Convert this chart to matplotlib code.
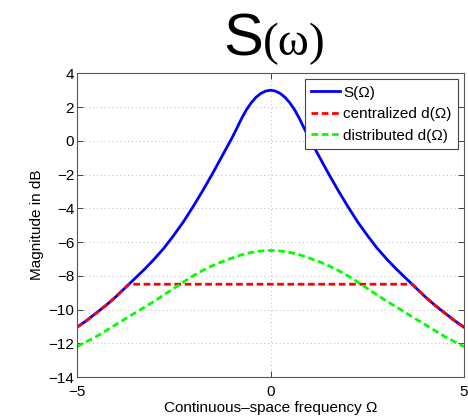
import numpy as np
import matplotlib
matplotlib.use('Agg')
import matplotlib.pyplot as plt
import matplotlib as mpl
mpl.rcParams.update({'font.family': ['Liberation Sans', 'DejaVu Sans'], 'font.size': 10})

# frequency grid and curves (dB)
omega = [-5.0, -4.75, -4.5, -4.25, -4.0, -3.75, -3.5, -3.25, -3.0, -2.75, -2.5,
         -2.25, -2.0, -1.75, -1.5, -1.25, -1.0, -0.875, -0.75, -0.625, -0.5,
         -0.375, -0.25, -0.125, 0.0, 0.125, 0.25, 0.375, 0.5, 0.625, 0.75,
         0.875, 1.0, 1.25, 1.5, 1.75, 2.0, 2.25, 2.5, 2.75, 3.0,
         3.25, 3.5, 3.75, 4.0, 4.25, 4.5, 4.75, 5.0]
S_dB = [-11.05, -10.65, -10.2, -9.75, -9.25, -8.7, -8.15, -7.6, -7.0, -6.35, -5.6,
        -4.8, -3.9, -2.95, -1.95, -0.9, 0.15, 0.72, 1.31, 1.83, 2.25,
        2.58, 2.81, 2.95, 3.0, 2.95, 2.81, 2.58, 2.25, 1.83, 1.31,
        0.72, 0.15, -0.9, -1.95, -2.95, -3.9, -4.8, -5.6, -6.35, -7.0,
        -7.6, -8.15, -8.7, -9.25, -9.75, -10.2, -10.65, -11.05]
dist_dB = [-12.2, -11.9, -11.6, -11.25, -10.9, -10.55, -10.2, -9.85, -9.5, -9.13, -8.75,
           -8.37, -8.0, -7.68, -7.4, -7.16, -6.95, -6.85, -6.76, -6.68, -6.62,
           -6.57, -6.53, -6.51, -6.5, -6.51, -6.53, -6.57, -6.62, -6.68, -6.76,
           -6.85, -6.95, -7.16, -7.4, -7.68, -8.0, -8.37, -8.75, -9.13, -9.5,
           -9.85, -10.2, -10.55, -10.9, -11.25, -11.6, -11.9, -12.2]
omega_c = [-5.0, -4.75, -4.5, -4.25, -4.0, -3.75, -3.66, 3.66, 3.75, 4.0, 4.25, 4.5, 4.75, 5.0]
cent_dB = [-11.05, -10.65, -10.2, -9.75, -9.25, -8.7, -8.5, -8.5, -8.7, -9.25, -9.75, -10.2, -10.65, -11.05]

fig = plt.figure(figsize=(4.68, 4.16), dpi=100)
ax = fig.add_axes([0.1645, 0.0937, 0.827, 0.730])

ax.plot(omega, S_dB, color=(0, 0, 1), lw=2, label='S(Ω)')
ax.plot(omega_c, cent_dB, color=(1, 0, 0), lw=2, dashes=(2.4, 1.3), label='centralized d(Ω)')
ax.plot(omega, dist_dB, color=(0, 1, 0), lw=2, dashes=(2.4, 1.3), label='distributed d(Ω)')

ax.set_xlim(-5, 5)
ax.set_ylim(-14, 4)
ax.set_xticks([-5, 0, 5])
ax.set_yticks(np.arange(-14, 5, 2))
ax.grid(True, color='#bbbbbb', linestyle=(0, (1, 3)), lw=0.7)
ax.tick_params(direction='in', top=True, right=True, length=4, width=0.7,
               color='#444444', labelsize=11, pad=2)
ax.tick_params(axis='x', pad=6)
for s in ax.spines.values():
    s.set_color('#555555')
    s.set_linewidth(0.8)

ax.set_xlabel('Continuous–space frequency Ω', fontsize=11, labelpad=1)
ax.set_ylabel('Magnitude in dB', fontsize=11, labelpad=3)

leg = ax.legend(loc='upper right', fontsize=11, handlelength=1.9, handletextpad=0.2,
                borderpad=0.4, labelspacing=0.5, borderaxespad=0.4, fancybox=False,
                framealpha=1, edgecolor='#444444')
leg.get_frame().set_linewidth(0.8)

fig.text(263/468, 1 - 55/416, 'S', fontsize=43, ha='right', va='baseline',
         family=['Liberation Sans', 'DejaVu Sans'])
fig.text(263/468, 1 - 55/416, '(ω)', fontsize=34, ha='left', va='baseline',
         family=['Liberation Serif', 'DejaVu Serif'])

fig.savefig('out.png', dpi=100)
